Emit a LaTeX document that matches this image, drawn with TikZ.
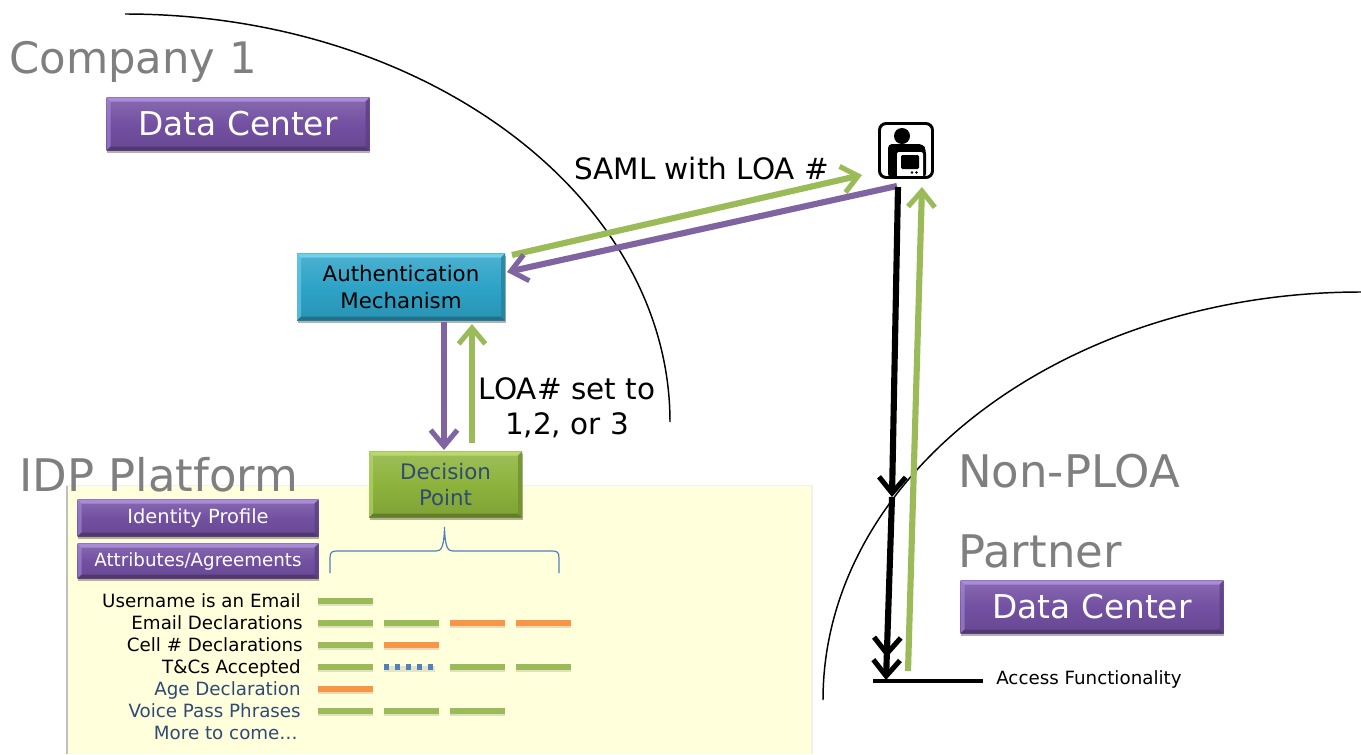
\documentclass[tikz,border=0pt]{standalone}
\usepackage{fontspec}
\setmainfont{DejaVu Sans}
\usetikzlibrary{arrows.meta,calc,shadows}
\definecolor{tgray}{HTML}{7F7F7F}
\definecolor{navy}{HTML}{2F4A75}
\definecolor{barg}{HTML}{9BBB59}
\definecolor{baro}{HTML}{F79646}
\definecolor{barb}{HTML}{4F81BD}
\definecolor{arrp}{HTML}{8064A2}
\definecolor{panely}{HTML}{FFFFDC}
\tikzset{
  x=0.75pt,y=-0.75pt,
  title/.style={anchor=base west,inner sep=0pt,text=tgray},
  bevel/.style n args={5}{draw=none,inner sep=0pt,align=center,
    minimum width=#1*0.75pt,minimum height=#2*0.75pt,
    top color=#3!85!white,bottom color=#3!90!black,middle color=#3,
    general shadow={shadow xshift=0.5pt,shadow yshift=-1.5pt,fill=black,opacity=.3},
    path picture={
      \coordinate (NW) at (path picture bounding box.north west);
      \coordinate (NE) at (path picture bounding box.north east);
      \coordinate (SW) at (path picture bounding box.south west);
      \coordinate (SE) at (path picture bounding box.south east);
      \fill[#4] (NW)--(NE)--($(NE)+(-#5,#5)$)--($(NW)+(#5,#5)$)--cycle;
      \fill[#4,opacity=.6] (NW)--(SW)--($(SW)+(#5,-#5)$)--($(NW)+(#5,#5)$)--cycle;
      \fill[#3!70!black] (SW)--(SE)--($(SE)+(-#5,-#5)$)--($(SW)+(#5,-#5)$)--cycle;
      \fill[#3!80!black,opacity=.8] (NE)--(SE)--($(SE)+(-#5,-#5)$)--($(NE)+(-#5,#5)$)--cycle;
    }},
  purplebox/.style 2 args={bevel={#1}{#2}{boxp}{boxpl}{4},text=white},
  rowlabel/.style={anchor=base east,inner sep=0pt,font=\fontsize{13.7}{16}\selectfont},
  bar/.style={line width=4pt},
  arc/.style={draw=black,line width=1.1pt},
  thick arrow/.style={line width=4.6pt,-{Straight Barb[length=12pt,width=20pt,line width=3.8pt]}},
}
\definecolor{boxp}{HTML}{7350A2}
\definecolor{boxpl}{HTML}{A98BD8}
\definecolor{boxb}{HTML}{2EA3C7}
\definecolor{boxbl}{HTML}{6FD0EA}
\definecolor{boxg}{HTML}{8DB33C}
\definecolor{boxgl}{HTML}{B9D96E}
\begin{document}
\begin{tikzpicture}
\useasboundingbox (0,0) rectangle (1361,754);
\fill[white] (0,0) rectangle (1361,754);
% yellow panel
\node[fill=black!6,minimum width=747*0.75pt,minimum height=269*0.75pt,inner sep=0pt,anchor=north west] (panelshadow) at (66,485) {};
\fill[black!25] (66,486) rectangle (68,754);
\node[fill=panely,minimum width=743*0.75pt,minimum height=268*0.75pt,inner sep=0pt,anchor=north west] (panel) at (68,486) {};
% arcs
\coordinate (a1s) at (125,14); \coordinate (a1e) at (670,422);
\draw[arc] (a1s) .. controls (426,14) and (670,197) .. (a1e);
\coordinate (a2s) at (823,700); \coordinate (a2e) at (1361,292);
\draw[arc] (a2s) .. controls (823,475) and (1064,292) .. (a2e);
% titles
\node[title,font=\fontsize{32.5}{37}\selectfont] (company) at (9,73) {Company 1};
\node[title,font=\fontsize{33.7}{37}\selectfont] (idp) at (19,491) {IDP Platform};
\node[title,font=\fontsize{33.7}{37}\selectfont] (nonploa) at (958,487) {Non-PLOA};
\node[title,font=\fontsize{33.7}{37}\selectfont] (partner) at (958,567) {Partner};
% boxes
\node[purplebox={263}{53},font=\fontsize{24.6}{28}\selectfont] (dc1) at (238,124) {\raisebox{-0.8pt}{Data Center}};
\node[purplebox={263}{53},font=\fontsize{24.6}{28}\selectfont] (dc2) at (1092,607) {\raisebox{-0.8pt}{Data Center}};
\node[bevel={208}{67}{boxb}{boxbl}{4},text=black,font=\fontsize{16}{19.6}\selectfont] (auth) at (401,287) {Authentication\\Mechanism};
\node[bevel={153}{66}{boxg}{boxgl}{4},text=navy,font=\fontsize{16}{19.6}\selectfont] (decision) at (445.5,484.5) {Decision\\Point};
\node[purplebox={241}{37},font=\fontsize{14.6}{16}\selectfont] (ident) at (198,518) {\raisebox{-0.8pt}{Identity Profile}};
\node[purplebox={241}{35},font=\fontsize{13.7}{16}\selectfont] (attrs) at (198,561) {\raisebox{-0.8pt}{Attributes/Agreements}};
% brace
\coordinate (bl) at (330,573); \coordinate (br) at (559,573); \coordinate (bt) at (444.5,527);
\draw[barb,line width=0.9pt] (bl) -- (330,558) .. controls (330,552) and (332,551) .. (337,551) -- (436,551) .. controls (441,551) and (444,548) .. (bt) .. controls (445,548) and (448,551) .. (453,551) -- (552,551) .. controls (557,551) and (559,552) .. (559,558) -- (br);
% labels
\node[rowlabel,text=black] (l1) at (301,607.5) {Username is an Email};
\node[rowlabel,text=black] (l2) at (303,629.5) {Email Declarations};
\node[rowlabel,text=black] (l3) at (303,651.5) {Cell \# Declarations};
\node[rowlabel,text=black] (l4) at (301,673.5) {T\&Cs Accepted};
\node[rowlabel,text=navy] (l5) at (301,695.5) {Age Declaration};
\node[rowlabel,text=navy] (l6) at (301,717.5) {Voice Pass Phrases};
\node[rowlabel,text=navy] (l7) at (298,739.5) {More to come…};
% bars
\foreach \yy/\xx/\cc in {601/318/barg,623/318/barg,623/384/barg,623/450/baro,623/516/baro,645/318/barg,645/384/baro,667/318/barg,667/450/barg,667/516/barg,689/318/baro,711/318/barg,711/384/barg,711/450/barg}{
  \draw[bar,black,opacity=.12] (\xx,\yy+2) -- (\xx+55,\yy+2);
  \draw[bar,\cc] (\xx,\yy) -- (\xx+55,\yy);
}
\draw[bar,black,opacity=.1] (384,669) -- (435,669);
\draw[bar,barb,dash pattern=on 3.8pt off 4.4pt] (384,667) -- (435,667);
% connector labels
\node[inner sep=0pt,font=\fontsize{22.1}{26}\selectfont,anchor=west] (saml) at (574,169) {SAML with LOA \#};
\node[inner sep=0pt,font=\fontsize{22.1}{26.5}\selectfont,align=center,anchor=center] (loa) at (567,407.5) {LOA\# set to\\1,2, or 3};
% icon
\fill[black] (902,136) circle (8);
\fill[black,rounded corners=3pt] (888,178) -- (888,144) -- (923,144) -- (926,150) -- (926,178) -- cycle;
\fill[white,rounded corners=1.5pt] (897,152) rectangle (923,178);
\fill[black,rounded corners=1pt] (901,155) rectangle (919,169);
\fill[black] (912,172.5) circle (1.3) (916.5,172.5) circle (1.3);
\node[draw=black,line width=2.2pt,rounded corners=5pt,minimum width=53*0.75pt,minimum height=54*0.75pt,inner sep=0pt] (icon) at (906,150.5) {};
% access line
\coordinate (accl) at (873,681); \coordinate (accr) at (983,681);
\draw[black,line width=3.6pt] (accl) -- (accr);
\node[inner sep=0pt,anchor=base west,font=\fontsize{13.7}{16}\selectfont] (access) at (996,684) {Access Functionality};
% arrows
\coordinate (gs1) at (512,255); \coordinate (ge1) at (862,175);
\coordinate (ps1) at (897,186); \coordinate (pe1) at (507,272);
\coordinate (ps2) at (444,322); \coordinate (pe2) at (444,450);
\coordinate (gs2) at (472,443); \coordinate (ge2) at (472,324);
\coordinate (gs3) at (908,671); \coordinate (ge3) at (922,187);
\coordinate (ks) at (898,187); \coordinate (km) at (892,497); \coordinate (ke) at (886,680);
\draw[thick arrow,barg] (gs1) -- (ge1);
\draw[thick arrow,arrp] (ps1) -- (pe1);
\draw[thick arrow,arrp] (ps2) -- (pe2);
\draw[thick arrow,barg] (gs2) -- (ge2);
\draw[thick arrow,barg] (gs3) -- (ge3);
\draw[thick arrow,black] (ks) -- (km);
\draw[thick arrow,black,-{Straight Barb[length=12pt,width=20pt,line width=3.8pt]Straight Barb[length=12pt,width=20pt,line width=3.8pt]}] (km) -- (ke);
\end{tikzpicture}
\end{document}
